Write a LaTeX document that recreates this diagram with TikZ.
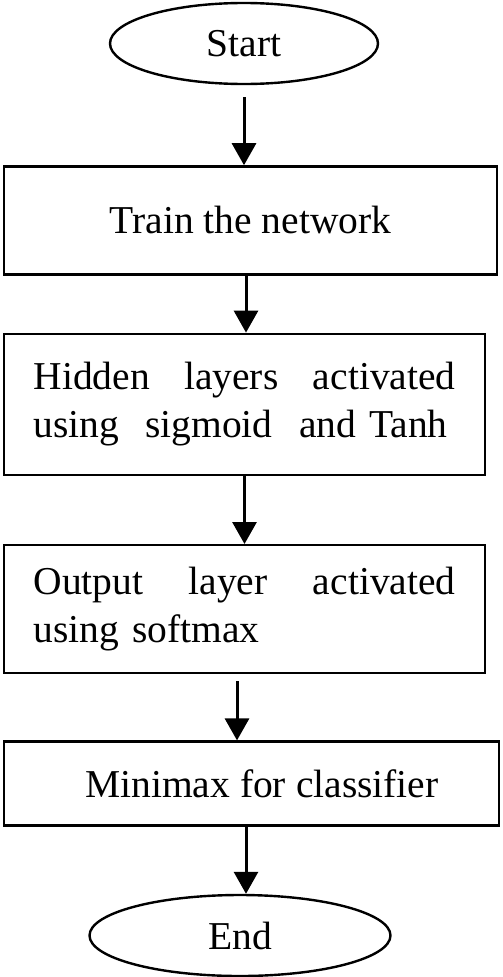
\documentclass[tikz,border=0pt]{standalone}
\usepackage{fontspec}
\setmainfont{Liberation Serif}
\usetikzlibrary{shapes.geometric}
\usetikzlibrary{positioning,arrows.meta}

\begin{document}
\begin{tikzpicture}[
    x=1pt, y=-1pt,
    every node/.style={font=\fontsize{39.5}{48}\selectfont, line width=2.4pt},
    terminal/.style={draw, ellipse, inner sep=0pt, minimum height=81pt},
    stepbox/.style={draw, rectangle, inner sep=0pt},
    textbox/.style={stepbox, text width=422pt, align=left, minimum width=481pt},
    flow/.style={line width=3pt, -{Triangle[length=22pt, width=24pt]}},
    node distance=60pt
    ]
    \useasboundingbox (0,0) rectangle (503,977);

    %% Start
    \node[terminal, minimum width=268pt](start) at (244,43.5){Start};

    %% Training and activation steps
    \node[stepbox, minimum width=493pt, minimum height=108pt](train)[below=80pt of start, xshift=6.5pt]{Train the network};
    \node[textbox, minimum height=141pt](hidden)[below=57pt of train, xshift=-6pt]{Hidden\hfill layers\hfill activated\\using\ \ sigmoid\ \ and Tanh};
    \node[textbox, minimum height=128pt](output)[below=68pt of hidden]{Output\hfill layer\hfill activated\\using softmax};

    %% Classifier
    \node[stepbox, minimum width=495pt, minimum height=84pt](minimax)[below=66pt of output, xshift=7pt]{\hspace*{21pt}Minimax for classifier};

    %% End
    \node[terminal, minimum width=301pt](finish)[below=67pt of minimax, xshift=-11.5pt]{End};

    %% Connectors
    \draw[flow, shorten <=12pt] (start.south) -- (start.south |- train.north);
    \draw[flow] ([xshift=-4.5pt]train.south) -- ([xshift=-4.5pt]train.south |- hidden.north);
    \draw[flow] (hidden.south) -- (hidden.south |- output.north);
    \draw[flow, shorten <=7pt] ([xshift=-7.5pt]output.south) -- ([xshift=-7.5pt]output.south |- minimax.north);
    \draw[flow] ([xshift=-5.5pt]minimax.south) -- ([xshift=-5.5pt]minimax.south |- finish.north);
\end{tikzpicture}
\end{document}
